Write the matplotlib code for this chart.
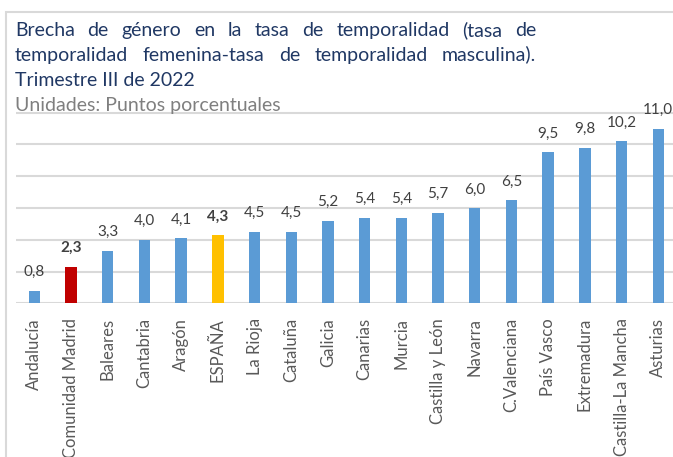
import matplotlib
matplotlib.use("Agg")
import matplotlib.pyplot as plt
from matplotlib.patches import Rectangle
import numpy as np

categories = ["Andalucía", "Comunidad Madrid", "Baleares", "Cantabria", "Aragón",
              "ESPAÑA", "La Rioja", "Cataluña", "Galicia", "Canarias", "Murcia",
              "Castilla y León", "Navarra", "C.Valenciana", "País Vasco",
              "Extremadura", "Castilla-La Mancha", "Asturias"]
values = [0.8, 2.3, 3.3, 4.0, 4.1, 4.3, 4.5, 4.5, 5.2, 5.4, 5.4, 5.7, 6.0, 6.5,
          9.5, 9.8, 10.2, 11.0]
highlight = {"Comunidad Madrid": "#C00000", "ESPAÑA": "#FFC000"}
bold_labels = ["Comunidad Madrid", "ESPAÑA"]

title_lines = ["Brecha de género en la tasa de temporalidad (tasa de",
               "temporalidad femenina-tasa de temporalidad masculina).",
               "Trimestre III de 2022"]
units_text = "Unidades: Puntos porcentuales"

FONT = "Lato"
W, H = 673, 457
fig = plt.figure(figsize=(W / 100, H / 100), dpi=100)
fig.patch.set_facecolor("white")

# outer border (chart area frame)
fig.add_artist(Rectangle((6 / W, -0.1), 1.2, (H - 12) / H + 0.1, transform=fig.transFigure,
                         fill=False, edgecolor="#d9d9d9", linewidth=1.5))

# axes geometry
left_px, base_px, top12_px = 16, 303.3, 112.7
step = 36.7
n = len(categories)
ppu = (base_px - top12_px) / 12.0
ymax = 12.3
ax = fig.add_axes([left_px / W, (H - base_px) / H, n * step / W, ymax * ppu / H])
ax.set_xlim(-0.5, n - 0.5)
ax.set_ylim(0, ymax)

colors = [highlight.get(c, "#5B9BD5") for c in categories]
x = np.arange(n)
ax.bar(x, values, width=0.31, color=colors, zorder=3)

ax.set_yticks([0, 2, 4, 6, 8, 10, 12])
ax.yaxis.grid(True, color="#d9d9d9", linewidth=1.5, zorder=0)
ax.set_axisbelow(True)
ax.tick_params(axis="y", left=False, labelleft=False)
for s in ax.spines.values():
    s.set_visible(False)

ax.set_xticks(x)
ax.set_xticklabels(categories, rotation=90, fontsize=12, family=FONT, color="#595959",
                   va="top", ha="center")
ax.tick_params(axis="x", length=0, pad=10.5)

for xi, v, c in zip(x, values, categories):
    lab = f"{v:.1f}".replace(".", ",")
    ax.annotate(lab, (xi, v), xytext=(0, 10.5), textcoords="offset points",
                ha="center", va="baseline", fontsize=11, family=FONT, color="#404040",
                fontweight="bold" if c in bold_labels else "normal",
                annotation_clip=False)

# Title with justification
renderer = fig.canvas.get_renderer()
title_color = "#203864"
tsize = 14
x0, x1 = 15, 536
baselines = [35.7, 60.6, 85.7]


def px2fig(xp, yp):
    return xp / W, (H - yp) / H


for i, line in enumerate(title_lines):
    yb = baselines[i]
    if i < 2:
        words = line.split(" ")
        widths = []
        for w in words:
            t = fig.text(0, 0, w, fontsize=tsize, family=FONT)
            bb = t.get_window_extent(renderer)
            widths.append(bb.width)
            t.remove()
        gap = (x1 - x0 - sum(widths)) / (len(words) - 1)
        xp = x0
        for w, wd in zip(words, widths):
            fx, fy = px2fig(xp, yb)
            fig.text(fx, fy, w, fontsize=tsize, family=FONT, color=title_color,
                     ha="left", va="baseline")
            xp += wd + gap
    else:
        fx, fy = px2fig(x0, yb)
        fig.text(fx, fy, line, fontsize=tsize, family=FONT, color=title_color,
                 ha="left", va="baseline")

fx, fy = px2fig(x0, 111.0)
fig.text(fx, fy, units_text, fontsize=tsize, family=FONT, color="#7f7f7f",
         ha="left", va="baseline")

fig.savefig("out.png", dpi=100, facecolor="white")
